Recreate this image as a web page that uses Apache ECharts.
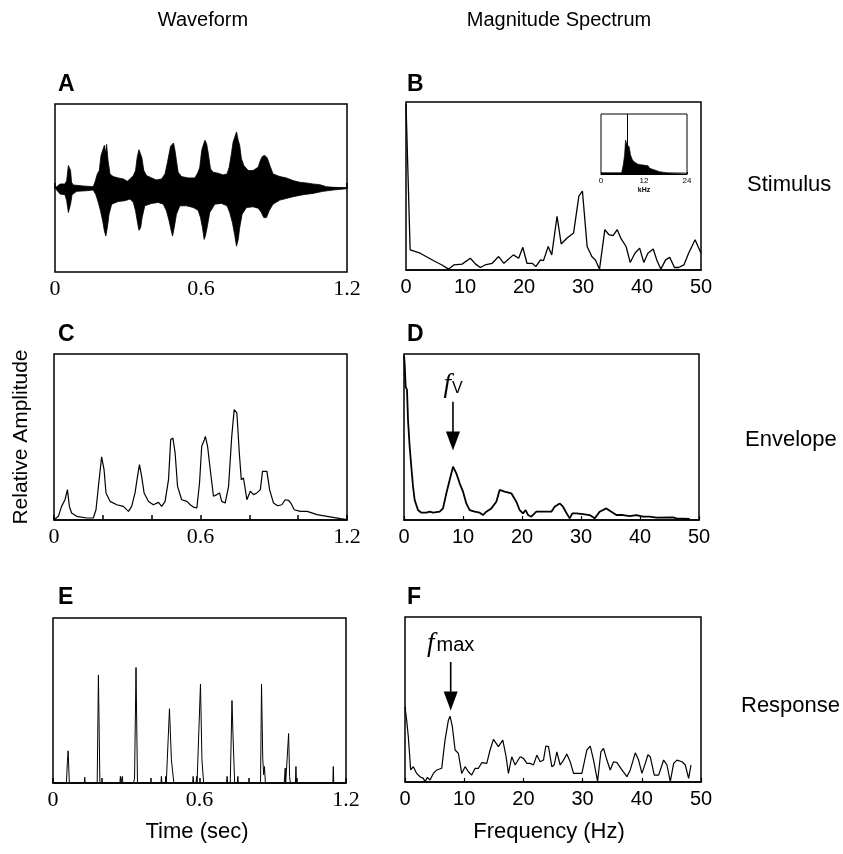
<!DOCTYPE html>
<html><head><meta charset="utf-8">
<script src="https://cdn.jsdelivr.net/npm/echarts@6/dist/echarts.min.js"></script>
<style>html,body{margin:0;padding:0;background:#fff}#c{width:843px;height:854px}</style>
</head><body><div id="c"></div>
<script>
// ---------- DATA ----------
// Panel A: stimulus waveform, upper and lower envelope [time s, relative amplitude]
const waveformUpper = [[0,0],[0.004,0.01],[0.021,0.048],[0.041,0.048],[0.048,0.088],[0.055,0.268],[0.059,0.288],[0.064,0.208],[0.068,0.068],[0.075,0.036],[0.116,0.024],[0.157,0.016],[0.164,0.068],[0.174,0.168],[0.182,0.208],[0.189,0.388],[0.196,0.368],[0.203,0.508],[0.208,0.408],[0.212,0.52],[0.218,0.328],[0.226,0.168],[0.239,0.136],[0.260,0.12],[0.281,0.108],[0.297,0.08],[0.308,0.108],[0.322,0.148],[0.331,0.208],[0.338,0.368],[0.345,0.456],[0.352,0.464],[0.357,0.36],[0.365,0.208],[0.376,0.148],[0.397,0.12],[0.417,0.096],[0.438,0.108],[0.452,0.168],[0.461,0.288],[0.469,0.408],[0.475,0.496],[0.482,0.508],[0.487,0.536],[0.493,0.448],[0.499,0.328],[0.506,0.188],[0.520,0.136],[0.547,0.12],[0.575,0.12],[0.588,0.188],[0.595,0.248],[0.603,0.448],[0.609,0.508],[0.616,0.568],[0.623,0.528],[0.629,0.428],[0.639,0.228],[0.650,0.188],[0.670,0.176],[0.691,0.156],[0.707,0.168],[0.716,0.248],[0.725,0.408],[0.732,0.548],[0.739,0.608],[0.746,0.668],[0.753,0.568],[0.759,0.508],[0.766,0.348],[0.776,0.268],[0.794,0.208],[0.814,0.208],[0.835,0.248],[0.844,0.328],[0.852,0.376],[0.862,0.388],[0.872,0.36],[0.883,0.268],[0.896,0.168],[0.924,0.136],[0.951,0.12],[0.978,0.088],[1.006,0.068],[1.033,0.06],[1.060,0.048],[1.088,0.04],[1.115,0.016],[1.143,0.008],[1.2,0]];
const waveformLower = [[0,0],[0.004,-0.012],[0.021,-0.072],[0.041,-0.08],[0.048,-0.152],[0.055,-0.292],[0.059,-0.312],[0.064,-0.192],[0.070,-0.08],[0.089,-0.04],[0.130,-0.032],[0.157,-0.024],[0.168,-0.08],[0.178,-0.172],[0.187,-0.272],[0.196,-0.392],[0.203,-0.512],[0.209,-0.572],[0.215,-0.472],[0.222,-0.312],[0.233,-0.192],[0.260,-0.16],[0.287,-0.152],[0.308,-0.132],[0.322,-0.172],[0.331,-0.272],[0.338,-0.392],[0.345,-0.504],[0.352,-0.472],[0.358,-0.352],[0.369,-0.212],[0.397,-0.184],[0.424,-0.172],[0.445,-0.192],[0.458,-0.272],[0.469,-0.392],[0.478,-0.512],[0.483,-0.572],[0.490,-0.472],[0.499,-0.312],[0.513,-0.212],[0.540,-0.212],[0.568,-0.232],[0.588,-0.264],[0.598,-0.352],[0.606,-0.472],[0.613,-0.612],[0.618,-0.572],[0.625,-0.472],[0.636,-0.292],[0.657,-0.192],[0.684,-0.184],[0.707,-0.212],[0.718,-0.292],[0.729,-0.412],[0.738,-0.552],[0.746,-0.692],[0.753,-0.612],[0.759,-0.472],[0.769,-0.312],[0.787,-0.232],[0.814,-0.224],[0.835,-0.24],[0.848,-0.292],[0.858,-0.352],[0.869,-0.352],[0.880,-0.272],[0.896,-0.192],[0.924,-0.144],[0.951,-0.124],[0.978,-0.104],[1.019,-0.08],[1.060,-0.064],[1.101,-0.04],[1.143,-0.024],[1.2,-0.008]];

// Panel B: stimulus magnitude spectrum [Hz, relative]
const stimulusSpectrum = [[0,0.99],[0.7,0.12],[2.4,0.10],[4.7,0.055],[6.1,0.03],[7.2,0.005],[8.1,0.03],[9.5,0.035],[10.9,0.07],[11.8,0.035],[12.6,0.015],[13.4,0.03],[14.6,0.04],[15.7,0.08],[16.6,0.04],[18.2,0.09],[19.1,0.07],[19.8,0.135],[20.5,0.04],[21.4,0.04],[22,0.02],[22.8,0.06],[23.3,0.056],[24.1,0.14],[24.7,0.09],[25.6,0.32],[26.3,0.155],[27.3,0.19],[28.4,0.22],[29.3,0.44],[29.9,0.47],[30.7,0.14],[31.5,0.08],[32.1,0.06],[32.8,0.005],[33.7,0.24],[34.4,0.21],[35.1,0.205],[35.8,0.24],[36.4,0.19],[37.3,0.14],[38,0.045],[38.8,0.10],[39.6,0.13],[40.3,0.045],[41,0.10],[41.9,0.125],[42.5,0.06],[43.2,0.005],[44,0.06],[44.7,0.075],[45.5,0.015],[46.2,0.015],[47.1,0.03],[47.9,0.10],[49,0.18],[50,0.10]];

// Inset of B: carrier spectrum [kHz, relative]
const carrierSpectrum = [[0,0.022],[2.5,0.022],[5.74,0.022],[6.2,0.15],[6.57,0.317],[6.85,0.567],[7.13,0.54],[7.31,0.483],[7.87,0.456],[8.24,0.317],[8.8,0.233],[9.44,0.194],[10.37,0.161],[11.76,0.15],[13.15,0.139],[13.6,0.094],[15,0.067],[16.4,0.039],[18.24,0.022],[24,0.017]];
const carrierMarker = 7.3;

// Panel C: envelope [time s, relative]
const envelope = [[0,0.002],[0.018,0.022],[0.031,0.082],[0.045,0.122],[0.055,0.183],[0.063,0.082],[0.072,0.042],[0.093,0.022],[0.134,0.012],[0.161,0.012],[0.172,0.062],[0.182,0.203],[0.195,0.38],[0.205,0.303],[0.213,0.163],[0.230,0.112],[0.257,0.092],[0.284,0.082],[0.305,0.052],[0.318,0.082],[0.332,0.163],[0.342,0.263],[0.350,0.333],[0.359,0.263],[0.369,0.163],[0.387,0.112],[0.407,0.092],[0.428,0.106],[0.441,0.082],[0.455,0.112],[0.469,0.243],[0.478,0.484],[0.487,0.494],[0.496,0.404],[0.506,0.203],[0.523,0.122],[0.544,0.112],[0.558,0.092],[0.571,0.078],[0.585,0.072],[0.596,0.223],[0.605,0.444],[0.616,0.484],[0.620,0.504],[0.629,0.444],[0.640,0.303],[0.653,0.143],[0.667,0.153],[0.678,0.163],[0.687,0.112],[0.701,0.102],[0.715,0.203],[0.728,0.504],[0.738,0.665],[0.749,0.645],[0.759,0.404],[0.767,0.243],[0.776,0.253],[0.790,0.122],[0.804,0.173],[0.817,0.153],[0.831,0.163],[0.845,0.183],[0.854,0.293],[0.861,0.303],[0.872,0.293],[0.883,0.183],[0.899,0.102],[0.916,0.086],[0.933,0.092],[0.947,0.122],[0.961,0.118],[0.970,0.102],[0.984,0.062],[1.009,0.052],[1.036,0.052],[1.050,0.046],[1.077,0.032],[1.118,0.022],[1.173,0.008],[1.2,0.002]];

// Panel D: envelope spectrum [Hz, relative]
const envelopeSpectrum = [[0,0.99],[0.11,0.944],[0.28,0.803],[0.51,0.783],[0.68,0.602],[0.96,0.442],[1.24,0.321],[1.53,0.201],[1.81,0.12],[2.37,0.06],[2.94,0.044],[3.79,0.044],[4.35,0.05],[4.92,0.044],[6.05,0.05],[6.61,0.07],[7.18,0.161],[7.74,0.241],[8.31,0.321],[8.87,0.281],[9.44,0.221],[10.0,0.171],[10.56,0.1],[11.13,0.06],[11.98,0.05],[12.82,0.044],[13.39,0.03],[13.95,0.05],[14.8,0.07],[15.65,0.11],[16.21,0.181],[17.06,0.171],[18.19,0.161],[19.04,0.11],[19.6,0.06],[20.17,0.04],[20.62,0.06],[21.02,0.03],[21.58,0.02],[22.43,0.05],[23.56,0.05],[24.97,0.05],[25.54,0.08],[26.38,0.1],[26.95,0.08],[27.51,0.044],[28.08,0.01],[28.53,0.04],[29.21,0.04],[30.34,0.036],[31.47,0.03],[32.32,0.01],[33.16,0.05],[34.29,0.07],[35.14,0.05],[35.99,0.03],[37.12,0.03],[38.25,0.024],[39.38,0.03],[40.51,0.02],[41.64,0.02],[42.77,0.014],[45.59,0.016],[46.16,0.01],[48.42,0.006]];
const fvArrow = {freq:8.3, shaftTop:0.713, shaftEnd:0.50, head:0.476, label:0.813};

// Panel E: neural response (spike-rate histogram) [time s, relative]
const response = [[0,0],[0.055,0],[0.059,0.13],[0.062,0.195],[0.067,0],[0.128,0],[0.130,0.035],[0.132,0],[0.181,0],[0.186,0.655],[0.192,0],[0.274,0],[0.276,0.04],[0.278,0],[0.282,0],[0.284,0.04],[0.286,0],[0.330,0],[0.334,0.03],[0.340,0.70],[0.346,0],[0.442,0],[0.444,0.04],[0.446,0],[0.460,0],[0.462,0.04],[0.464,0],[0.470,0],[0.477,0.45],[0.485,0.14],[0.495,0],[0.572,0],[0.574,0.04],[0.576,0],[0.586,0],[0.588,0.04],[0.590,0],[0.598,0],[0.604,0.60],[0.610,0.14],[0.617,0],[0.711,0],[0.713,0.04],[0.715,0],[0.726,0],[0.733,0.50],[0.737,0.30],[0.744,0],[0.755,0],[0.757,0.04],[0.759,0],[0.850,0],[0.854,0.60],[0.859,0.15],[0.863,0.05],[0.866,0.10],[0.870,0],[0.947,0],[0.951,0.09],[0.953,0],[0.961,0],[0.965,0.30],[0.969,0.04],[0.972,0],[0.993,0],[0.995,0.10],[0.997,0],[1.146,0],[1.148,0.10],[1.150,0],[1.2,0]];

// Panel F: response spectrum [Hz, relative]
const responseSpectrum = [[0,0.456],[0.28,0.375],[0.56,0.274],[0.96,0.073],[1.41,0.093],[1.97,0.052],[2.54,0.032],[3.1,0.022],[3.38,0.002],[3.78,0.028],[4.23,0.012],[4.79,0.052],[5.36,0.073],[6.2,0.083],[6.76,0.254],[7.33,0.375],[7.61,0.399],[8.0,0.335],[8.46,0.194],[9.02,0.173],[9.58,0.052],[10.15,0.093],[10.71,0.062],[11.27,0.042],[11.84,0.083],[12.4,0.083],[12.97,0.117],[13.81,0.113],[14.37,0.194],[14.94,0.258],[15.78,0.214],[16.52,0.254],[17.08,0.153],[17.47,0.052],[18.04,0.153],[18.6,0.103],[19.45,0.153],[20.01,0.143],[20.58,0.113],[21.14,0.113],[21.7,0.103],[22.27,0.163],[22.83,0.123],[23.39,0.133],[23.79,0.218],[24.24,0.214],[24.8,0.093],[25.2,0.103],[25.65,0.183],[26.21,0.103],[26.61,0.123],[27.34,0.169],[27.9,0.123],[28.47,0.052],[29.03,0.052],[29.88,0.052],[30.72,0.194],[31.29,0.218],[31.85,0.133],[32.53,0.004],[33.09,0.183],[33.54,0.204],[34.1,0.133],[34.67,0.073],[35.23,0.123],[35.8,0.117],[36.64,0.073],[37.49,0.032],[38.05,0.073],[38.9,0.177],[39.46,0.133],[40.02,0.052],[40.59,0.113],[41.04,0.165],[41.43,0.153],[42.11,0.042],[42.84,0.042],[43.69,0.133],[44.25,0.103],[44.81,0.002],[45.38,0.113],[45.94,0.133],[46.79,0.123],[47.35,0.103],[47.91,0.022],[48.31,0.103]];
const fmaxArrow = {freq:7.72, shaftTop:0.728, shaftEnd:0.52, head:0.491, label:0.836};

// Tick labels
const timeTickLabels = ['0', '0.6', '1.2'];
const freqTickLabels = ['0', '10', '20', '30', '40', '50'];
const kHzTickLabels = ['0', '12', '24'];

// ---------- CHART ----------
const sans = '"Liberation Sans", Arial, Helvetica, sans-serif';
const serif = '"Liberation Serif", "Times New Roman", serif';
const chart = echarts.init(document.getElementById('c'), null, {renderer: 'canvas'});

const rects = [
  {left:55, top:104, width:292, height:168},
  {left:406, top:102, width:295, height:168},
  {left:54, top:354, width:293, height:166},
  {left:404, top:354, width:295, height:166},
  {left:53, top:618, width:293, height:165},
  {left:405, top:617, width:296, height:165},
  {left:601, top:114, width:86, height:60}
];
const grid = rects.map((r, i) => Object.assign({}, r, {
  show: true, borderColor: '#000', borderWidth: i === 6 ? 1 : 1.5,
  backgroundColor: i === 6 ? '#fff' : 'rgba(0,0,0,0)', containLabel: false
}));

function pickLabel(list) {
  return function (v) {
    for (const s of list) { if (Math.abs(parseFloat(s) - v) < 1e-6) return s; }
    return '';
  };
}
function timeAxis(i) {
  return {
    type: 'value', gridIndex: i, min: 0, max: 1.2, interval: 0.2,
    axisLine: {show: true, lineStyle: {color: '#000', width: 1.5}},
    axisTick: {show: true, inside: true, length: 5, lineStyle: {color: '#000', width: 1.5}},
    axisLabel: {formatter: pickLabel(timeTickLabels), fontFamily: serif, fontSize: 22, color: '#000', margin: 6},
    splitLine: {show: false}
  };
}
function freqAxis(i, ticks) {
  return {
    type: 'value', gridIndex: i, min: 0, max: 50, interval: 10,
    axisLine: {show: true, lineStyle: {color: '#000', width: 1.5}},
    axisTick: {show: ticks, inside: true, length: 4, lineStyle: {color: '#000', width: 1.2}},
    axisLabel: {formatter: pickLabel(freqTickLabels), fontFamily: sans, fontSize: 20, color: '#000', margin: 7},
    splitLine: {show: false}
  };
}
const xAxis = [
  timeAxis(0), freqAxis(1, false), timeAxis(2), freqAxis(3, true), timeAxis(4), freqAxis(5, true),
  {
    type: 'value', gridIndex: 6, min: 0, max: 24, interval: 6,
    axisLine: {show: true, lineStyle: {color: '#000', width: 1}},
    axisTick: {show: true, inside: true, length: 2, lineStyle: {color: '#000', width: 1}},
    axisLabel: {formatter: pickLabel(kHzTickLabels), fontFamily: sans, fontSize: 8, color: '#000', margin: 3},
    splitLine: {show: false},
    name: 'kHz', nameLocation: 'middle', nameGap: 13,
    nameTextStyle: {fontFamily: sans, fontSize: 7, fontWeight: 'bold', color: '#000'}
  }
];
function yAx(i, min, max) {
  return {type: 'value', gridIndex: i, min: min, max: max, show: false, splitLine: {show: false}};
}
const yAxis = [yAx(0, -1, 1), yAx(1, 0, 1), yAx(2, 0, 1), yAx(3, 0, 1), yAx(4, 0, 1), yAx(5, 0, 1), yAx(6, 0, 1)];

function line(i, data, width, extra) {
  return Object.assign({
    type: 'line', xAxisIndex: i, yAxisIndex: i, data: data, symbol: 'none', showSymbol: false,
    lineStyle: {color: '#000', width: width}, silent: true, z: 3
  }, extra || {});
}
function arrow(i, a, rich, fmt) {
  return [
    line(i, [[a.freq, a.shaftTop], [a.freq, a.shaftEnd]], 1.6),
    {type: 'scatter', xAxisIndex: i, yAxisIndex: i, data: [[a.freq, a.head]], symbol: 'triangle',
     symbolRotate: 180, symbolSize: [14, 19], itemStyle: {color: '#000', opacity: 1}, silent: true, z: 4},
    {type: 'scatter', xAxisIndex: i, yAxisIndex: i, data: [[a.freq, a.label]], symbol: 'circle',
     symbolSize: 1, itemStyle: {color: 'rgba(255,255,255,0)', opacity: 1}, silent: true, z: 4,
     label: {show: true, position: 'inside', color: '#000', opacity: 1, formatter: fmt, rich: rich}}
  ];
}
const fStyle = {fontFamily: serif, fontStyle: 'italic', fontSize: 27, color: '#000', verticalAlign: 'bottom'};

const series = [
  line(0, waveformUpper, 0.8, {areaStyle: {color: '#000', opacity: 1, origin: 'auto'}}),
  line(0, waveformLower, 0.8, {areaStyle: {color: '#000', opacity: 1, origin: 'auto'}}),
  line(1, stimulusSpectrum, 1.3),
  line(6, carrierSpectrum, 0.6, {areaStyle: {color: '#000', opacity: 1}, markLine: {
    symbol: 'none', silent: true, label: {show: false}, animation: false,
    lineStyle: {color: '#000', type: 'solid', width: 1}, data: [{xAxis: carrierMarker}]}}),
  line(2, envelope, 1.2),
  line(3, envelopeSpectrum, 1.8),
  line(4, response, 1.0),
  line(5, responseSpectrum, 1.2)
].concat(
  arrow(3, fvArrow, {f: fStyle, v: {fontFamily: sans, fontSize: 16, color: '#000', verticalAlign: 'bottom', padding: [0, 0, 2, 1]}}, '{f|f}{v|V}'),
  arrow(5, fmaxArrow, {f: fStyle, v: {fontFamily: sans, fontSize: 20, color: '#000', verticalAlign: 'bottom', padding: [0, 0, 2, 2]}}, '{f|f}{v|max}')
);

function txt(text, x, y, size, opts) {
  const o = opts || {};
  return {
    type: 'text', x: x, y: y, rotation: o.rotation || 0, silent: true, z: 10,
    style: {
      text: text, fill: '#000', fontFamily: o.family || sans, fontSize: size,
      fontWeight: o.weight || 'normal',
      textAlign: o.align || 'center', textVerticalAlign: 'middle',
      align: o.align || 'center', verticalAlign: 'middle'
    }
  };
}
const graphic = [
  txt('Waveform', 203, 20, 20),
  txt('Magnitude Spectrum', 559, 20, 20),
  txt('Stimulus', 747, 185, 22, {align: 'left'}),
  txt('Envelope', 745, 440, 22, {align: 'left'}),
  txt('Response', 741, 706, 22, {align: 'left'}),
  txt('Relative Amplitude', 21, 437, 21, {rotation: Math.PI / 2}),
  txt('Time (sec)', 197, 832, 22),
  txt('Frequency (Hz)', 549, 832, 22),
  txt('A', 58, 85, 23, {align: 'left', weight: 'bold'}),
  txt('B', 407, 85, 23, {align: 'left', weight: 'bold'}),
  txt('C', 58, 335, 23, {align: 'left', weight: 'bold'}),
  txt('D', 407, 335, 23, {align: 'left', weight: 'bold'}),
  txt('E', 58, 598, 23, {align: 'left', weight: 'bold'}),
  txt('F', 407, 598, 23, {align: 'left', weight: 'bold'})
];

chart.setOption({
  backgroundColor: '#fff', animation: false,
  grid: grid, xAxis: xAxis, yAxis: yAxis, series: series, graphic: graphic
});
</script></body></html>
